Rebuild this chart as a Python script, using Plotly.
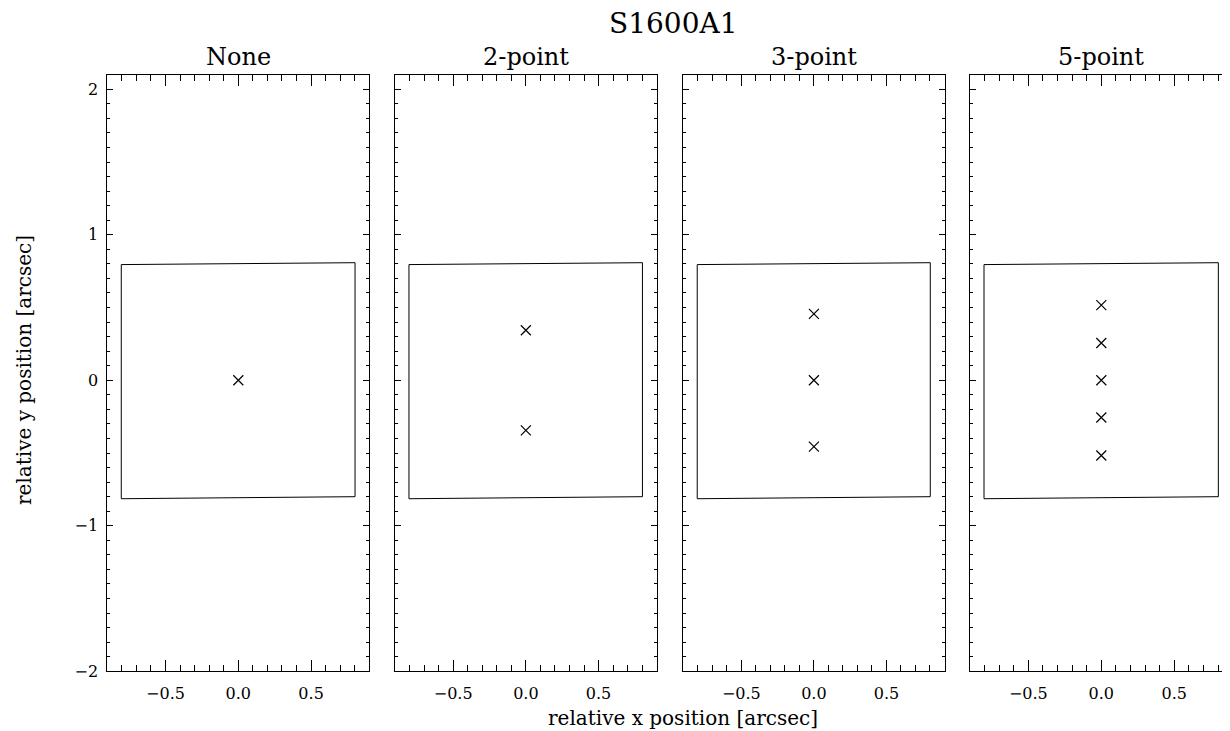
import plotly.graph_objects as go

# ---- data ----
panel_titles = ["None", "2-point", "3-point", "5-point"]
dither_y = [
    [0.0],
    [0.344, -0.344],
    [0.456, 0.0, -0.456],
    [0.517, 0.256, 0.0, -0.256, -0.517],
]
aperture_x = [-0.804, 0.802, 0.802, -0.804, -0.804]
aperture_y = [0.795, 0.808, -0.800, -0.814, 0.795]
main_title = "S1600A1"
x_title = "relative x position [arcsec]"
y_title = "relative y position [arcsec]"

# page body has an 8px margin; figure coordinates = screen coordinates - 8
OFF = 8
W, H = 1222, 723
FONT = "DejaVu Serif"


def px(xs):
    return (xs - OFF) / W


def py(ys):
    return 1 - (ys - OFF) / H


x_domains = [
    (px(107.3), px(369.3)),
    (px(395.0), px(656.7)),
    (px(683.3), px(944.5)),
    (px(970.0), 1.0),
]
x_ranges = [[-0.9, 0.9], [-0.9, 0.9], [-0.9, 0.9], [-0.9, 0.882]]
y_domain = (py(671.3), py(74.7))
title_centers = [238.3, 525.9, 813.9, 1101.3]

fig = go.Figure()

for i in range(4):
    xa = "x" if i == 0 else f"x{i+1}"
    ya = "y" if i == 0 else f"y{i+1}"
    fig.add_trace(go.Scatter(
        x=aperture_x, y=aperture_y, mode="lines",
        line=dict(color="black", width=1), xaxis=xa, yaxis=ya,
        showlegend=False, hoverinfo="skip"))
    fig.add_trace(go.Scatter(
        x=[0.0] * len(dither_y[i]), y=dither_y[i], mode="markers",
        marker=dict(symbol="x-thin", size=10, line=dict(color="black", width=1.2), color="black"),
        xaxis=xa, yaxis=ya, showlegend=False))

    xkey = "xaxis" if i == 0 else f"xaxis{i+1}"
    ykey = "yaxis" if i == 0 else f"yaxis{i+1}"
    fig.update_layout(**{
        xkey: dict(
            domain=list(x_domains[i]), range=x_ranges[i], anchor=ya,
            tickvals=[-0.5, 0.0, 0.5], tickformat=".1f",
            ticks="inside", ticklen=11, tickwidth=1, tickcolor="black",
            minor=dict(dtick=0.1, tick0=0, ticks="inside", ticklen=6, tickwidth=1, tickcolor="black"),
            showline=True, linecolor="black", linewidth=1, mirror="ticks",
            showgrid=False, zeroline=False, automargin=False,
            tickfont=dict(family=FONT, size=16, color="black"),
            ticklabelstandoff=7,
        ),
        ykey: dict(
            domain=list(y_domain), range=[-2, 2.1], anchor=xa,
            tickvals=[-2, -1, 0, 1, 2],
            ticks="inside", ticklen=6, tickwidth=1, tickcolor="black",
            minor=dict(dtick=0.1, tick0=0, ticks="inside", ticklen=3, tickwidth=1, tickcolor="black"),
            showline=True, linecolor="black", linewidth=1, mirror="ticks",
            showgrid=False, zeroline=False, showticklabels=(i == 0), automargin=False,
            tickfont=dict(family=FONT, size=16, color="black"),
            ticklabelstandoff=5,
        ),
    })

annotations = []
for i, t in enumerate(panel_titles):
    annotations.append(dict(text=t, x=px(title_centers[i]), y=py(57), xref="paper", yref="paper",
                            xanchor="center", yanchor="middle", showarrow=False,
                            font=dict(family=FONT, size=24, color="black")))
annotations.append(dict(text=main_title, x=px(672.5), y=py(23), xref="paper", yref="paper",
                        xanchor="center", yanchor="middle", showarrow=False,
                        font=dict(family=FONT, size=28, color="black")))
annotations.append(dict(text=x_title, x=px(683), y=py(718), xref="paper", yref="paper",
                        xanchor="center", yanchor="middle", showarrow=False,
                        font=dict(family=FONT, size=20, color="black")))
annotations.append(dict(text=y_title, x=px(24), y=py(370), xref="paper", yref="paper",
                        xanchor="center", yanchor="middle", showarrow=False, textangle=-90,
                        font=dict(family=FONT, size=20, color="black")))

fig.update_layout(
    width=W, height=H,
    margin=dict(l=0, r=0, t=0, b=0),
    paper_bgcolor="white", plot_bgcolor="white",
    annotations=annotations,
)

fig.write_html("out.html")
